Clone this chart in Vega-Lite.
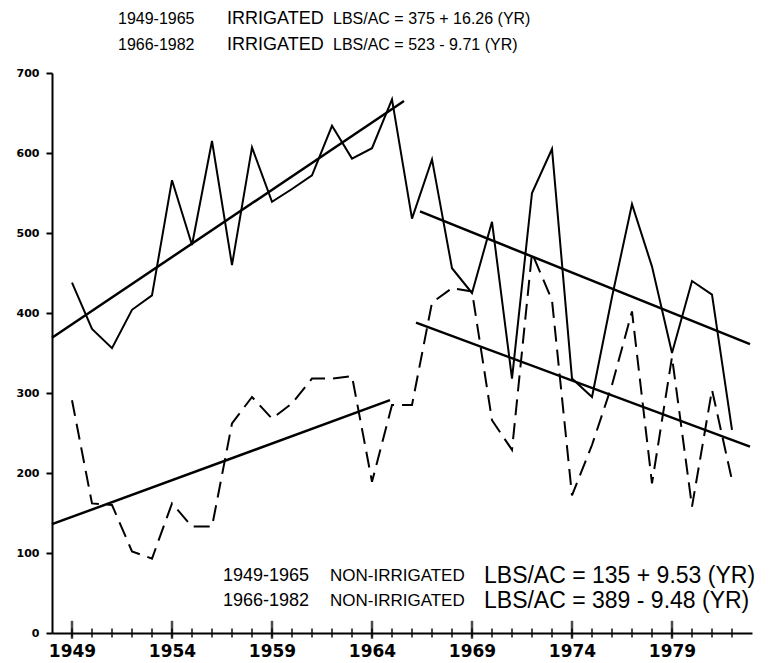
{
  "$schema": "https://vega.github.io/schema/vega-lite/v6.json",
  "autosize": {"type": "none"},
  "width": 700,
  "height": 560,
  "padding": {"left": 52, "top": 73, "right": 19, "bottom": 30},
  "background": "white",
  "config": {"view": {"stroke": null}},
  "datasets": {
    "yields": [
      {"year": 1949, "irrigated": 438, "nonirrigated": 291},
      {"year": 1950, "irrigated": 380, "nonirrigated": 162},
      {"year": 1951, "irrigated": 356, "nonirrigated": 160},
      {"year": 1952, "irrigated": 404, "nonirrigated": 102},
      {"year": 1953, "irrigated": 422, "nonirrigated": 93},
      {"year": 1954, "irrigated": 566, "nonirrigated": 162},
      {"year": 1955, "irrigated": 485, "nonirrigated": 133},
      {"year": 1956, "irrigated": 615, "nonirrigated": 133},
      {"year": 1957, "irrigated": 460, "nonirrigated": 262},
      {"year": 1958, "irrigated": 607, "nonirrigated": 295},
      {"year": 1959, "irrigated": 539, "nonirrigated": 268},
      {"year": 1960, "irrigated": 555, "nonirrigated": 287},
      {"year": 1961, "irrigated": 572, "nonirrigated": 318},
      {"year": 1962, "irrigated": 634, "nonirrigated": 318},
      {"year": 1963, "irrigated": 593, "nonirrigated": 321},
      {"year": 1964, "irrigated": 606, "nonirrigated": 189},
      {"year": 1965, "irrigated": 667, "nonirrigated": 285},
      {"year": 1966, "irrigated": 518, "nonirrigated": 285},
      {"year": 1967, "irrigated": 592, "nonirrigated": 413},
      {"year": 1968, "irrigated": 456, "nonirrigated": 431},
      {"year": 1969, "irrigated": 425, "nonirrigated": 427},
      {"year": 1970, "irrigated": 514, "nonirrigated": 266},
      {"year": 1971, "irrigated": 318, "nonirrigated": 229},
      {"year": 1972, "irrigated": 550, "nonirrigated": 475},
      {"year": 1973, "irrigated": 605, "nonirrigated": 416},
      {"year": 1974, "irrigated": 318, "nonirrigated": 172},
      {"year": 1975, "irrigated": 295, "nonirrigated": 235},
      {"year": 1976, "irrigated": 420, "nonirrigated": 310},
      {"year": 1977, "irrigated": 536, "nonirrigated": 402},
      {"year": 1978, "irrigated": 458, "nonirrigated": 187},
      {"year": 1979, "irrigated": 350, "nonirrigated": 345},
      {"year": 1980, "irrigated": 440, "nonirrigated": 158},
      {"year": 1981, "irrigated": 423, "nonirrigated": 304},
      {"year": 1982, "irrigated": 254, "nonirrigated": 191}
    ],
    "fits": [
      {"fit": "Irrigated 1949-1965", "year": 1948.0, "value": 369},
      {"fit": "Irrigated 1949-1965", "year": 1965.6, "value": 665},
      {"fit": "Irrigated 1966-1982", "year": 1966.4, "value": 527},
      {"fit": "Irrigated 1966-1982", "year": 1982.9, "value": 361},
      {"fit": "Non-Irrigated 1949-1965", "year": 1948.0, "value": 136},
      {"fit": "Non-Irrigated 1949-1965", "year": 1964.9, "value": 291},
      {"fit": "Non-Irrigated 1966-1982", "year": 1966.2, "value": 388},
      {"fit": "Non-Irrigated 1966-1982", "year": 1982.9, "value": 233}
    ],
    "notes": [
      {"kind": "topyears", "x": 1951.3, "y": 768, "label": "1949-1965"},
      {"kind": "topword", "x": 1956.75, "y": 768, "label": "IRRIGATED"},
      {"kind": "topeq", "x": 1962.05, "y": 768, "label": "LBS/AC = 375 + 16.26 (YR)"},
      {"kind": "topyears", "x": 1951.3, "y": 735, "label": "1966-1982"},
      {"kind": "topword", "x": 1956.75, "y": 735, "label": "IRRIGATED"},
      {"kind": "topeq", "x": 1962.05, "y": 735, "label": "LBS/AC = 523 - 9.71 (YR)"},
      {"kind": "botyears", "x": 1956.55, "y": 71, "label": "1949-1965"},
      {"kind": "botword", "x": 1961.9, "y": 71, "label": "NON-IRRIGATED"},
      {"kind": "boteq", "x": 1969.6, "y": 71, "label": "LBS/AC = 135 + 9.53 (YR)"},
      {"kind": "botyears", "x": 1956.55, "y": 40, "label": "1966-1982"},
      {"kind": "botword", "x": 1961.9, "y": 40, "label": "NON-IRRIGATED"},
      {"kind": "boteq", "x": 1969.6, "y": 40, "label": "LBS/AC = 389 - 9.48 (YR)"}
    ]
  },
  "layer": [
    {
      "data": {"name": "yields"},
      "mark": {"type": "line", "color": "black", "strokeWidth": 2},
      "encoding": {
        "x": {
          "field": "year", "type": "quantitative",
          "scale": {"domain": [1948, 1983], "nice": false, "zero": false},
          "axis": {
            "title": null,
            "grid": false,
            "values": [1949, 1954, 1959, 1964, 1969, 1974, 1979],
            "format": "d",
            "ticks": false,
            "domainColor": "black",
            "domainWidth": 2,
            "labelColor": "black",
            "labelFont": "DejaVu Sans",
            "labelFontWeight": "bold",
            "labelFontSize": 17,
            "labelPadding": 10,
            "labelFlush": false,
            "labelOverlap": false
          }
        },
        "y": {
          "field": "irrigated", "type": "quantitative",
          "scale": {"domain": [0, 700], "nice": false},
          "axis": {
            "title": null,
            "grid": false,
            "values": [0, 100, 200, 300, 400, 500, 600, 700],
            "tickColor": "black",
            "tickWidth": 2,
            "tickSize": 6,
            "domainColor": "black",
            "domainWidth": 2,
            "labelColor": "black",
            "labelFont": "DejaVu Sans",
            "labelFontWeight": "bold",
            "labelFontSize": 11,
            "labelPadding": 7
          }
        }
      }
    },
    {
      "data": {"name": "yields"},
      "mark": {"type": "tick", "orient": "vertical", "color": "black", "size": 9, "thickness": 2},
      "encoding": {
        "x": {"field": "year", "type": "quantitative"},
        "y": {"datum": 0}
      }
    },
    {
      "data": {"name": "yields"},
      "transform": [{"filter": "(datum.year - 1949) % 5 == 0"}],
      "mark": {"type": "tick", "orient": "vertical", "color": "black", "size": 18, "thickness": 2.5},
      "encoding": {
        "x": {"field": "year", "type": "quantitative"},
        "y": {"datum": 4}
      }
    },
    {
      "data": {"name": "yields"},
      "mark": {"type": "line", "color": "black", "strokeWidth": 2, "strokeDash": [16, 8]},
      "encoding": {
        "x": {"field": "year", "type": "quantitative"},
        "y": {"field": "nonirrigated", "type": "quantitative"}
      }
    },
    {
      "data": {"name": "fits"},
      "mark": {"type": "line", "color": "black", "strokeWidth": 2.5},
      "encoding": {
        "x": {"field": "year", "type": "quantitative"},
        "y": {"field": "value", "type": "quantitative"},
        "detail": {"field": "fit", "type": "nominal"}
      }
    },
    {
      "data": {"name": "notes"},
      "transform": [{"filter": "datum.kind == 'topyears'"}],
      "mark": {"type": "text", "align": "left", "baseline": "middle", "fontSize": 16, "font": "Liberation Sans", "color": "black"},
      "encoding": {
        "x": {"field": "x", "type": "quantitative"},
        "y": {"field": "y", "type": "quantitative"},
        "text": {"field": "label"}
      }
    },
    {
      "data": {"name": "notes"},
      "transform": [{"filter": "datum.kind == 'topword'"}],
      "mark": {"type": "text", "align": "left", "baseline": "middle", "fontSize": 18, "font": "Liberation Sans", "color": "black"},
      "encoding": {
        "x": {"field": "x", "type": "quantitative"},
        "y": {"field": "y", "type": "quantitative"},
        "text": {"field": "label"}
      }
    },
    {
      "data": {"name": "notes"},
      "transform": [{"filter": "datum.kind == 'topeq'"}],
      "mark": {"type": "text", "align": "left", "baseline": "middle", "fontSize": 16, "font": "Liberation Sans", "color": "black"},
      "encoding": {
        "x": {"field": "x", "type": "quantitative"},
        "y": {"field": "y", "type": "quantitative"},
        "text": {"field": "label"}
      }
    },
    {
      "data": {"name": "notes"},
      "transform": [{"filter": "datum.kind == 'botyears'"}],
      "mark": {"type": "text", "align": "left", "baseline": "middle", "fontSize": 18, "font": "Liberation Sans", "color": "black"},
      "encoding": {
        "x": {"field": "x", "type": "quantitative"},
        "y": {"field": "y", "type": "quantitative"},
        "text": {"field": "label"}
      }
    },
    {
      "data": {"name": "notes"},
      "transform": [{"filter": "datum.kind == 'botword'"}],
      "mark": {"type": "text", "align": "left", "baseline": "middle", "fontSize": 17, "font": "Liberation Sans", "color": "black"},
      "encoding": {
        "x": {"field": "x", "type": "quantitative"},
        "y": {"field": "y", "type": "quantitative"},
        "text": {"field": "label"}
      }
    },
    {
      "data": {"name": "notes"},
      "transform": [{"filter": "datum.kind == 'boteq'"}],
      "mark": {"type": "text", "align": "left", "baseline": "middle", "fontSize": 23, "font": "Liberation Sans", "color": "black"},
      "encoding": {
        "x": {"field": "x", "type": "quantitative"},
        "y": {"field": "y", "type": "quantitative"},
        "text": {"field": "label"}
      }
    }
  ]
}
